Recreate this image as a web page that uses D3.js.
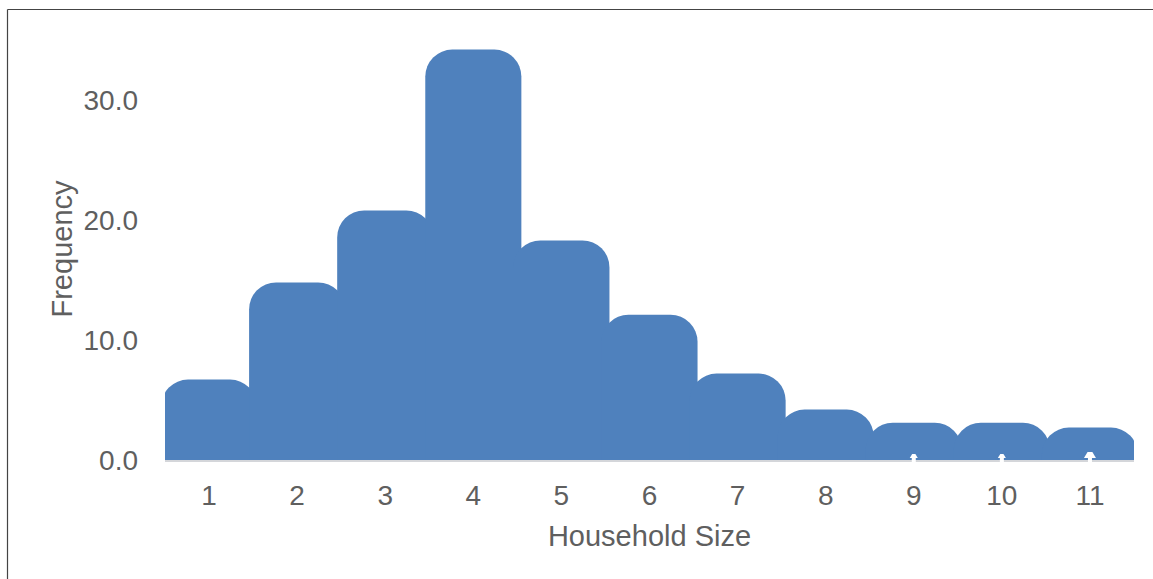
<!DOCTYPE html>
<html>
<head>
<meta charset="utf-8">
<script src="https://cdn.jsdelivr.net/npm/d3@7"></script>
<style>
  html, body { margin: 0; padding: 0; background: #fff; }
  svg { display: block; }
  text { font-family: "Liberation Sans", Arial, sans-serif; fill: #5f5f5f; }
</style>
</head>
<body>
<svg id="chart" width="1153" height="579"></svg>
<script>
// Household size histogram
const categories = ["1", "2", "3", "4", "5", "6", "7", "8", "9", "10", "11"];
const frequencies = [6.7, 14.8, 20.8, 34.2, 18.3, 12.1, 7.2, 4.2, 3.1, 3.1, 2.7];
const yTicks = [0, 10, 20, 30];
const notched = ["9", "10", "11"];

const W = 1153, H = 579;
const plot = { left: 165, right: 1134, top: 40, bottom: 460 };

const svg = d3.select("#chart");

// frame lines along the top and left edges
svg.append("line").attr("x1", 7.5).attr("x2", W).attr("y1", 9.5).attr("y2", 9.5)
  .attr("stroke", "#444").attr("stroke-width", 1.2);
svg.append("line").attr("x1", 7.5).attr("x2", 7.5).attr("y1", 9.5).attr("y2", H)
  .attr("stroke", "#444").attr("stroke-width", 1.2);

const x = d3.scaleBand().domain(categories).range([plot.left, plot.right]).padding(0);
const y = d3.scaleLinear().domain([0, 35]).range([plot.bottom, plot.bottom - 35 * 12]);

svg.append("defs").append("clipPath").attr("id", "plotClip")
  .append("rect")
  .attr("x", plot.left).attr("y", 0)
  .attr("width", plot.right - plot.left).attr("height", plot.bottom + 2);

// bars with rounded tops, slightly wider than their band so neighbours overlap
const overlap = 8, radius = 27;
function roundedTop(x0, x1, top, bottom, r) {
  r = Math.min(r, bottom - top, (x1 - x0) / 2);
  return `M${x0},${bottom}L${x0},${top + r}A${r},${r} 0 0 1 ${x0 + r},${top}` +
         `L${x1 - r},${top}A${r},${r} 0 0 1 ${x1},${top + r}L${x1},${bottom}Z`;
}

const data = categories.map((c, i) => ({ c, v: frequencies[i] }));

svg.append("g").attr("clip-path", "url(#plotClip)")
  .selectAll("path").data(data).join("path")
  .attr("d", d => {
    const cx = x(d.c) + x.bandwidth() / 2;
    const hw = (x.bandwidth() + overlap) / 2;
    return roundedTop(cx - hw, cx + hw, y(d.v), y(0), radius);
  })
  .attr("fill", "#4f81bd");

// baseline
svg.append("line")
  .attr("x1", plot.left).attr("x2", plot.right)
  .attr("y1", y(0) + 1).attr("y2", y(0) + 1)
  .attr("stroke", "#d4d6da").attr("stroke-width", 2);

// small notches at the foot of the short bars
svg.append("g").selectAll("path").data(notched).join("path")
  .attr("d", c => {
    const cx = x(c) + x.bandwidth() / 2;
    const s = c === "11" ? 6 : 4;
    return `M${cx - s},${y(0) - 2}L${cx - s * 0.4},${y(0) - 2 - s}L${cx + s * 0.4},${y(0) - 2 - s}L${cx + s},${y(0) - 2}Z`;
  })
  .attr("fill", "#fff");
svg.append("g").selectAll("rect").data(notched).join("rect")
  .attr("x", c => x(c) + x.bandwidth() / 2 - 2).attr("width", 4)
  .attr("y", y(0) - 2).attr("height", 4)
  .attr("fill", "#fff");

// y tick labels
svg.append("g").selectAll("text").data(yTicks).join("text")
  .attr("x", 138).attr("y", d => y(d))
  .attr("dy", "0.36em")
  .attr("text-anchor", "end")
  .attr("font-size", 28)
  .text(d => d3.format(".1f")(d));

// x tick labels
svg.append("g").selectAll("text").data(categories).join("text")
  .attr("x", d => x(d) + x.bandwidth() / 2).attr("y", 495)
  .attr("dy", "0.36em")
  .attr("text-anchor", "middle")
  .attr("font-size", 28)
  .text(d => d);

// axis titles
svg.append("text")
  .attr("x", (plot.left + plot.right) / 2).attr("y", 546)
  .attr("text-anchor", "middle")
  .attr("font-size", 29)
  .text("Household Size");

svg.append("text")
  .attr("transform", `translate(72,249) rotate(-90)`)
  .attr("text-anchor", "middle")
  .attr("font-size", 29)
  .text("Frequency");
</script>
</body>
</html>
